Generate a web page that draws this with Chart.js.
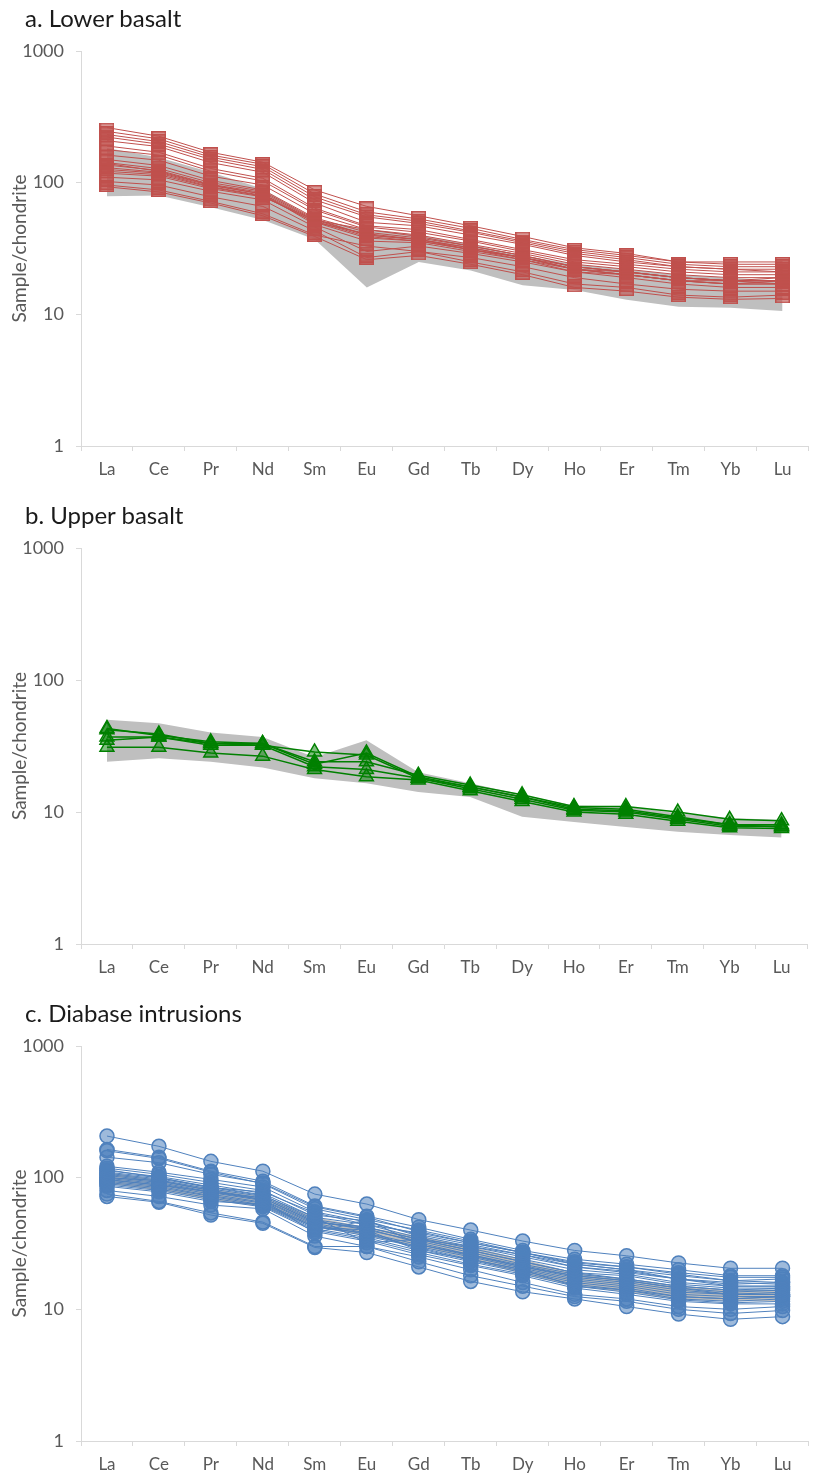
<!DOCTYPE html>
<html>
<head>
<meta charset="utf-8">
<script src="https://cdn.jsdelivr.net/npm/chart.js@4.4.1/dist/chart.umd.min.js"></script>
<style>
  body { margin: 0; background: #fff; width: 817px; height: 1477px; position: relative; overflow: hidden; }
  .panel { position: absolute; left: 0; width: 817px; }
  .panel h2 { position: absolute; left: 25px; top: 3px; margin: 0; line-height: 30px;
              font: 400 24px Lato, sans-serif; color: #1a1a1a; z-index: 2; }
  .panel canvas { position: absolute; left: 0; top: 0; }
</style>
</head>
<body>

<div class="panel" style="top:0px;height:497px">
  <h2>a. Lower basalt</h2>
  <canvas id="chart-lower" width="817" height="497"></canvas>
</div>
<div class="panel" style="top:497px;height:498px">
  <h2>b. Upper basalt</h2>
  <canvas id="chart-upper" width="817" height="498"></canvas>
</div>
<div class="panel" style="top:995px;height:482px">
  <h2>c. Diabase intrusions</h2>
  <canvas id="chart-diabase" width="817" height="482"></canvas>
</div>

<script>
const elements = ['La', 'Ce', 'Pr', 'Nd', 'Sm', 'Eu', 'Gd', 'Tb', 'Dy', 'Ho', 'Er', 'Tm', 'Yb', 'Lu'];
const yTicks = [1, 10, 100, 1000];

// chondrite-normalised REE, one row per sample
const lowerBasalt = [
	[262, 225, 170, 143, 88, 66, 56, 47, 39, 32, 29, 25, 25, 25],
	[245, 215, 162, 138, 82, 60, 53, 45, 37, 31, 28, 25, 24, 24],
	[232, 205, 156, 132, 78, 57, 51, 43, 36, 30, 27, 24, 23, 23],
	[222, 196, 150, 126, 74, 55, 49, 42, 35, 29, 26, 23, 22, 22],
	[208, 188, 142, 120, 70, 50, 47, 40, 34, 28, 25, 23, 22, 21],
	[190, 170, 128, 108, 64, 47, 44, 37, 31, 26, 24, 22, 21, 21],
	[178, 162, 122, 103, 62, 46, 42, 36, 30, 25, 23, 21, 20, 20],
	[162, 148, 112, 96, 58, 44, 40, 34, 29, 24, 22, 20, 19, 19],
	[150, 135, 104, 88, 54, 42, 38, 33, 28, 23, 21, 19, 18, 19],
	[142, 128, 100, 86, 53, 40, 37, 32, 27, 23, 21, 19, 18, 18],
	[136, 124, 97, 84, 52, 40, 37, 32, 27, 22, 21, 19, 18, 18],
	[130, 120, 95, 82, 51, 39, 36, 31, 27, 22, 20, 18, 18, 17],
	[126, 118, 93, 80, 50, 38, 36, 31, 26, 22, 20, 18, 17, 17],
	[122, 115, 92, 79, 50, 41, 37, 31, 27, 22, 20, 18, 17, 18],
	[118, 112, 90, 78, 52, 44, 39, 33, 28, 23, 21, 19, 18, 18],
	[140, 122, 96, 82, 48, 36, 35, 30, 26, 21, 20, 18, 17, 17],
	[110, 105, 86, 74, 46, 30, 33, 29, 25, 21, 19, 17, 16, 16],
	[102, 96, 78, 66, 43, 27, 30, 27, 23, 19, 17, 15.5, 15, 15],
	[96, 88, 72, 58, 40, 33, 30, 25, 21, 17, 16, 14, 13.5, 14],
	[93, 85, 70, 56, 39, 26, 28, 24, 20, 16, 15, 13.5, 13, 13.2],
];
const lowerBandMin = [79, 80, 65, 52, 37, 16, 25, 21.5, 16.6, 15.3, 12.9, 11.4, 11.2, 10.6];
const lowerBandMax = [183, 155, 120, 90, 52, 44, 40, 34, 28, 24, 22, 20, 19, 18];

const upperBasalt = [
	[42, 39, 33, 33, 24, 24, 19, 16, 13.5, 11, 11, 10, 8.8, 8.6],
	[43, 38, 34, 33, 23, 28, 18.5, 15.5, 13, 10.8, 10.5, 9.2, 8, 8],
	[37, 37, 32, 32, 28.5, 27, 18, 15, 12.5, 10.3, 10, 8.8, 7.8, 7.8],
	[31, 31, 28, 26.5, 21, 18.5, 17.5, 14.5, 12, 10, 9.6, 8.5, 7.6, 7.5],
	[35, 37, 33, 32, 22, 21, 18, 15.5, 13, 10.5, 10.2, 9, 8, 7.7],
];
const upperBandMin = [24, 25.5, 24, 21.7, 18, 16.5, 14.2, 13, 9.2, 8.4, 7.7, 7.1, 6.7, 6.4];
const upperBandMax = [50, 47, 40, 37, 26, 35, 20, 16.5, 13.5, 11.2, 11, 9.8, 9, 8.7];

const diabase = [
	[207, 173, 133, 112, 75, 63, 48, 40, 33, 28, 25.5, 22.5, 20.5, 20.5],
	[164, 143, 112, 94, 61, 51, 42, 34, 28, 24, 22, 20, 18, 18],
	[160, 140, 110, 90, 58, 48, 40, 33, 27, 23, 21, 19, 17.5, 17.5],
	[143, 130, 106, 91, 60, 50, 39, 32, 27, 22, 20, 18, 16.5, 17],
	[122, 110, 97, 85, 55, 46, 37, 31, 26, 21, 19, 17, 15.5, 16],
	[118, 106, 92, 80, 52, 47, 36, 30, 25, 21, 19.5, 17, 16, 15.5],
	[113, 102, 88, 76, 50, 44, 35, 29, 24, 20, 18.5, 16, 15, 15],
	[110, 100, 85, 74, 48, 42, 34, 28, 23, 19, 18, 15.5, 14.5, 14.5],
	[106, 96, 82, 72, 47, 40, 33, 27, 22, 18.5, 17, 15, 14, 14],
	[104, 94, 80, 70, 46, 41, 32, 26, 21.5, 18, 16.5, 14.5, 13.5, 14],
	[101, 92, 78, 68, 45, 38, 31, 25.5, 21, 17.5, 16, 14, 13, 13.5],
	[99, 90, 77, 67, 44, 37, 30, 25, 20.5, 17, 15.5, 13.5, 13, 13],
	[96, 88, 75, 65, 43, 36, 29.5, 24, 20, 16.5, 15, 13, 12.5, 12.5],
	[94, 86, 73, 64, 42, 38, 29, 23.5, 19.5, 16, 14.5, 12.5, 12, 12.5],
	[92, 84, 72, 62, 41, 35, 28, 23, 19, 15.5, 14, 12, 11.5, 12],
	[90, 82, 70, 61, 40, 34, 27, 22, 18.5, 15, 13.5, 11.8, 11.2, 11.5],
	[88, 80, 68, 60, 39, 33, 26, 21.5, 18, 14.5, 13, 11.5, 11, 11],
	[86, 78, 66, 63, 42, 40, 28, 24, 20, 15, 14, 12.5, 12, 12.5],
	[115, 100, 84, 73, 50, 32, 34, 28, 23, 19, 17, 15, 14, 14.5],
	[100, 95, 80, 68, 38, 48, 31, 26, 21, 18, 16.5, 14.5, 13, 13],
	[80, 72, 62, 58, 36, 30, 25, 20, 16, 13, 12, 10.5, 10, 10.5],
	[75, 66, 54, 46, 30, 30, 23, 18, 15, 12.5, 11.5, 10, 9.3, 9.8],
	[72, 65, 52, 45, 29.5, 27, 21, 16.3, 13.6, 12, 10.5, 9.2, 8.4, 8.8],
	[97, 88, 78, 70, 46, 42, 34, 30, 26, 22, 20, 17, 15, 15],
	[108, 98, 84, 78, 54, 44, 38, 32, 27, 22.5, 21, 18.5, 16.5, 16],
];
const diabaseBandMin = [90, 80, 68, 60, 42, 36, 30, 24, 18.5, 15, 13.5, 11.8, 11.5, 11.5];
const diabaseBandMax = [110, 97, 83, 72, 50, 42, 36, 30, 24, 19, 17, 15, 14, 14];

// Excel-style flat rectangle marker for the lower basalt samples
function rectMarker(w, h, fill, stroke) {
	const c = document.createElement('canvas');
	c.width = w;
	c.height = h;
	const g = c.getContext('2d');
	g.fillStyle = fill;
	g.fillRect(0, 0, w, h);
	g.strokeStyle = stroke;
	g.lineWidth = 1.5;
	g.strokeRect(0.75, 0.75, w - 1.5, h - 1.5);
	return c;
}

const FONT = 'Lato, "Open Sans", sans-serif';
const GREY_AXIS = '#D9D9D9';
const GREY_TEXT = '#595959';

function reeChart(id, xAxisHeight, samples, bandMin, bandMax, look) {
	const datasets = [
		{ data: bandMin, borderWidth: 0, pointRadius: 0, fill: false, order: 2 },
		{ data: bandMax, borderWidth: 0, pointRadius: 0, fill: '-1', backgroundColor: '#BFBFBF', order: 2 },
	];
	samples.forEach(s => {
		datasets.push({
			data: s,
			borderColor: look.line,
			borderWidth: look.lineWidth,
			pointStyle: look.marker,
			pointRadius: look.radius,
			pointBackgroundColor: look.fill,
			pointBorderColor: look.line,
			pointBorderWidth: 1.5,
			fill: false,
			tension: 0,
			order: 1
		});
	});

	return new Chart(document.getElementById(id), {
		type: 'line',
		data: { labels: elements, datasets: datasets },
		options: {
			responsive: false,
			animation: false,
			devicePixelRatio: 1,
			layout: { padding: { top: 51, right: 6, left: 0, bottom: 0 } },
			plugins: {
				legend: { display: false },
				tooltip: { enabled: false },
				title: { display: false }
			},
			scales: {
				x: {
					type: 'category',
					offset: true,
					afterFit: s => { s.height = xAxisHeight; },
					grid: { offset: true, drawOnChartArea: false, drawTicks: true, tickLength: 5, color: GREY_AXIS },
					border: { color: GREY_AXIS },
					ticks: { color: GREY_TEXT, font: { family: FONT, size: 17 }, padding: 8, maxRotation: 0, autoSkip: false }
				},
				y: {
					type: 'logarithmic',
					min: 1,
					max: 1000,
					afterBuildTicks: s => { s.ticks = yTicks.map(v => ({ value: v })); },
					afterFit: s => { s.width = 81; },
					grid: { drawOnChartArea: false, drawTicks: true, tickLength: 5, color: GREY_AXIS },
					border: { color: GREY_AXIS },
					ticks: { color: GREY_TEXT, font: { family: FONT, size: 18 }, padding: 12, callback: v => String(v) },
					title: {
						display: true,
						text: 'Sample/chondrite',
						color: GREY_TEXT,
						font: { family: FONT, size: 19 },
						padding: { top: 8, bottom: 0 }
					}
				}
			}
		}
	});
}

document.addEventListener('DOMContentLoaded', () => {
	reeChart('chart-lower', 51, lowerBasalt, lowerBandMin, lowerBandMax, {
		line: '#C0504D', lineWidth: 1, radius: 7,
		marker: rectMarker(15, 10, 'rgba(192,80,77,0.6)', '#C0504D'),
		fill: 'rgba(192,80,77,0.6)'
	});
	reeChart('chart-upper', 51, upperBasalt, upperBandMin, upperBandMax, {
		line: '#008000', lineWidth: 1.5, radius: 8,
		marker: 'triangle',
		fill: 'rgba(0,128,0,0.5)'
	});
	reeChart('chart-diabase', 36, diabase, diabaseBandMin, diabaseBandMax, {
		line: '#4F81BD', lineWidth: 1, radius: 7,
		marker: 'circle',
		fill: 'rgba(79,129,189,0.55)'
	});
});
</script>
</body>
</html>
